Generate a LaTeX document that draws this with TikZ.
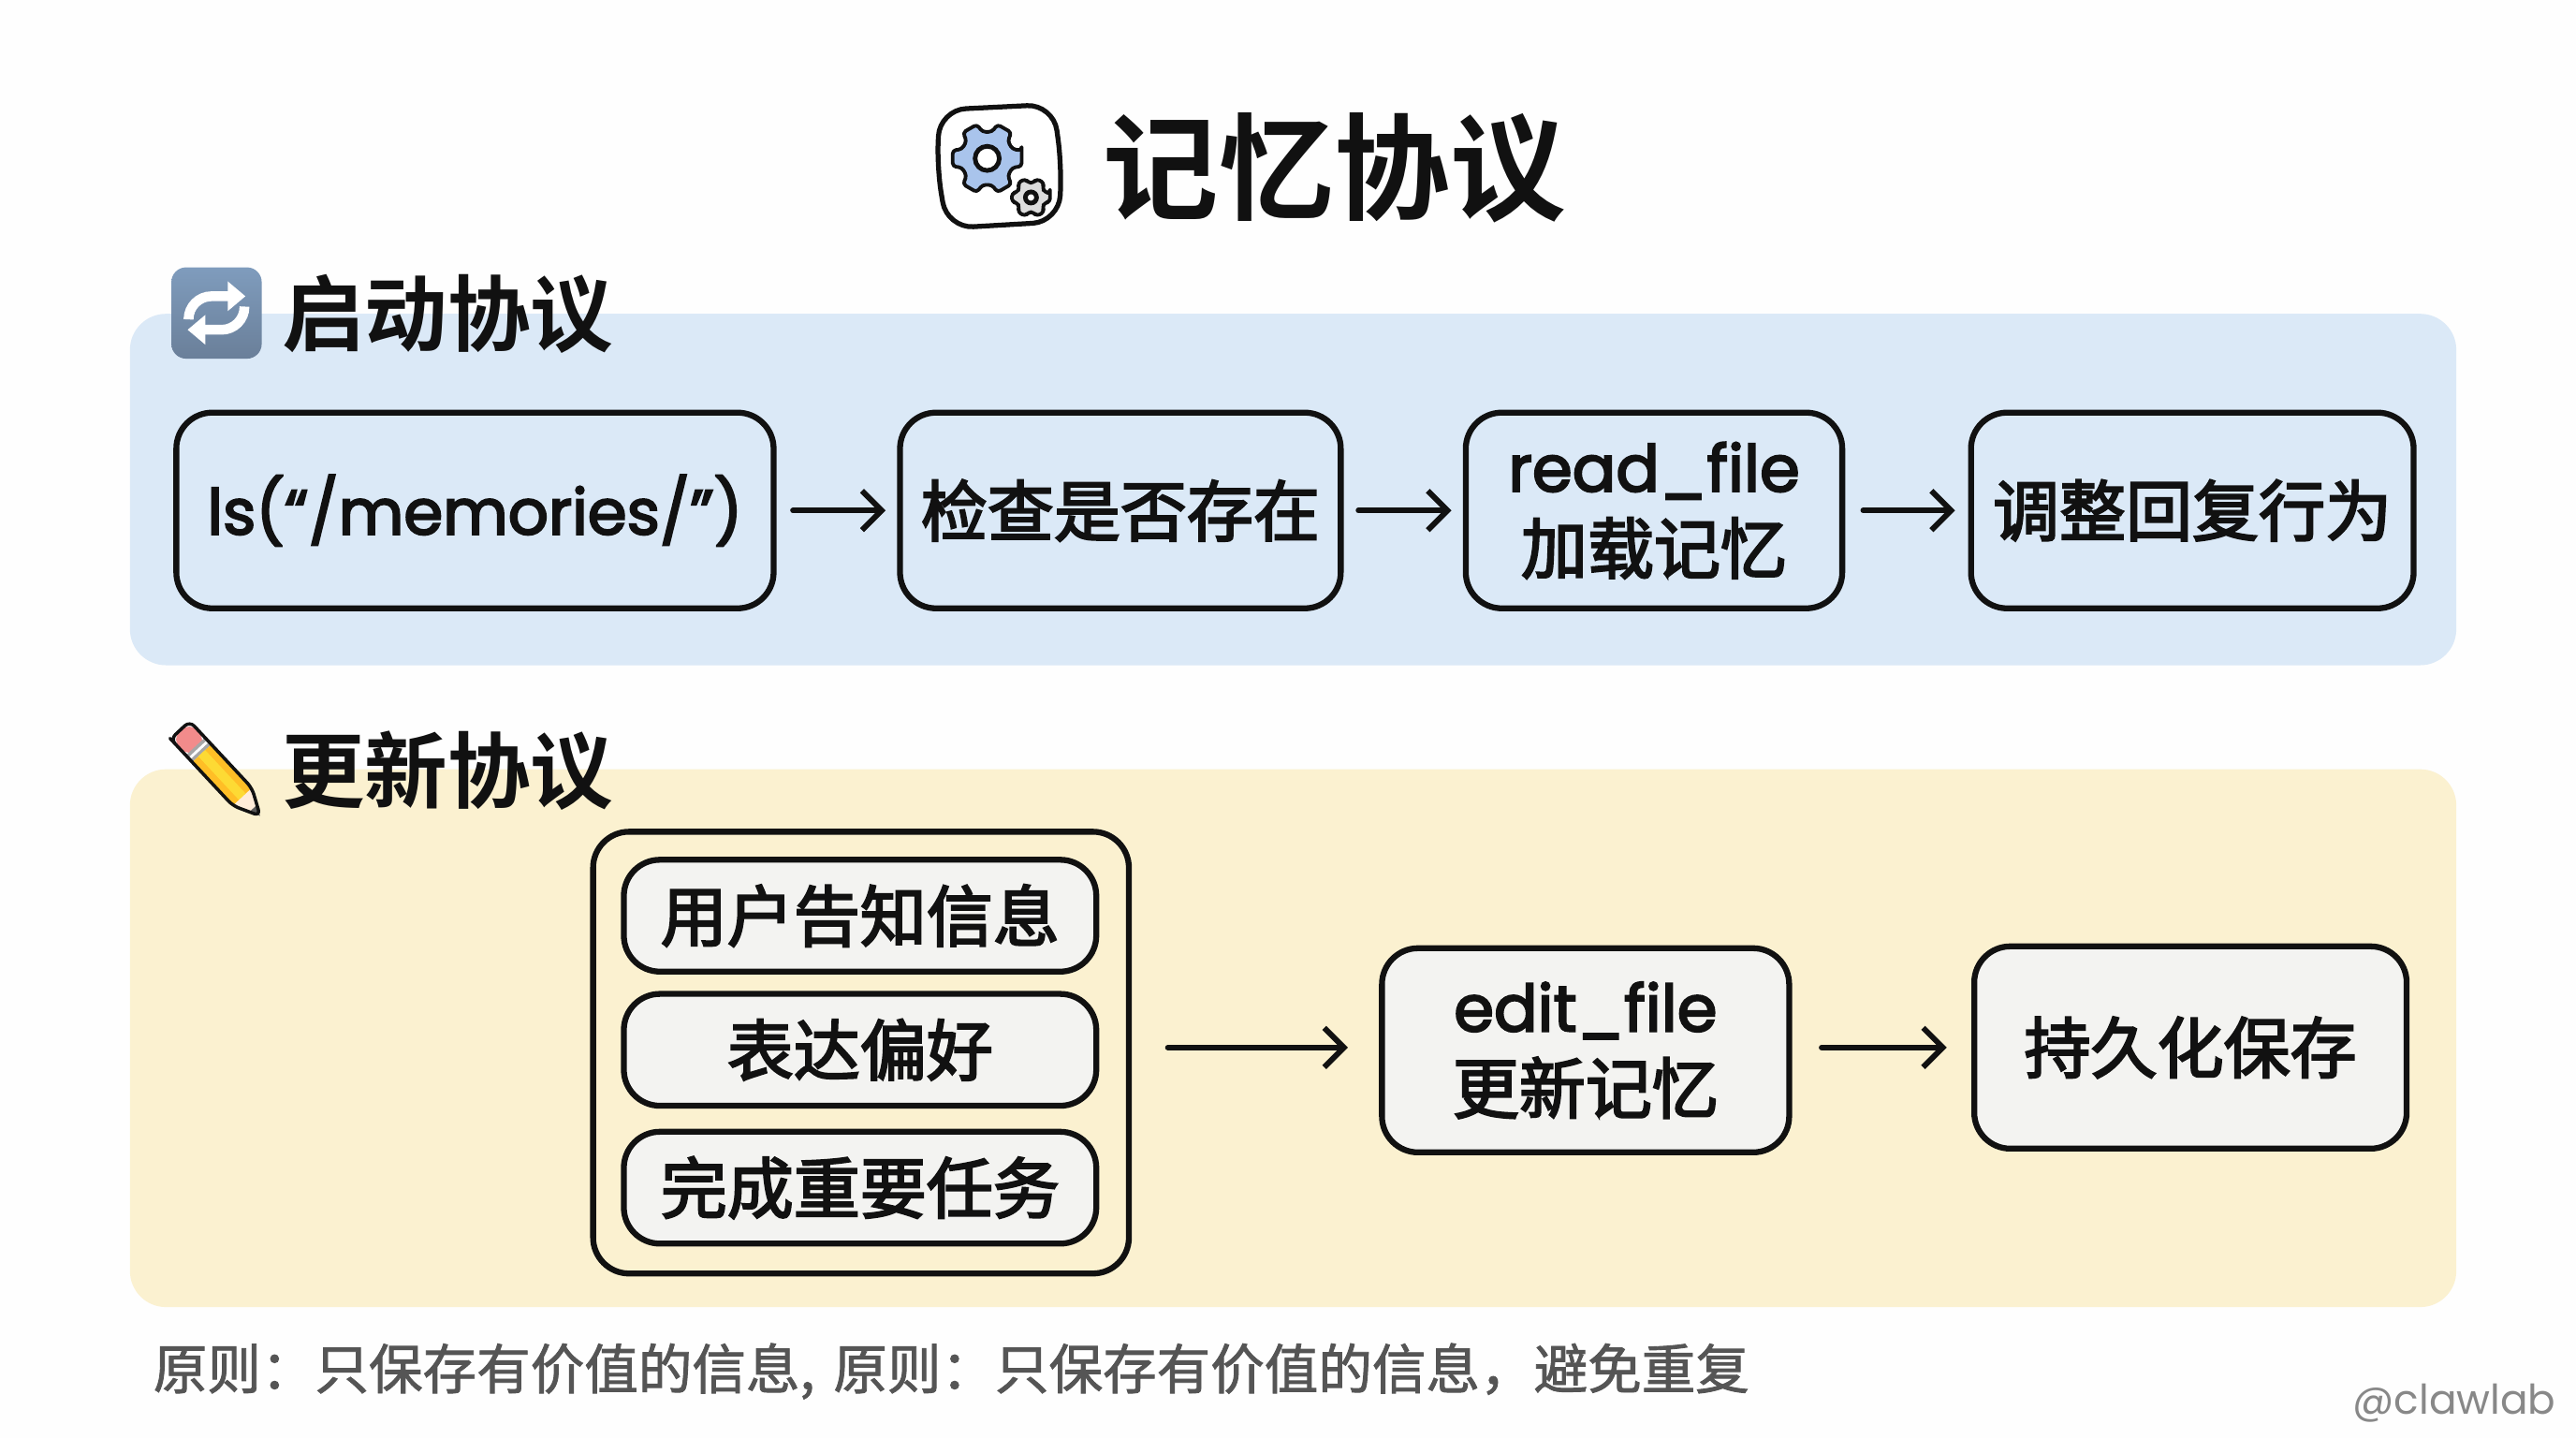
\documentclass[tikz,border=0pt]{standalone}
\usepackage{fontspec}
\setmainfont{Poppins}
\newfontfamily\latinmed[FakeBold=3]{Poppins}
\newfontfamily\cjkbold[BoldFont={Noto Sans CJK SC Bold}]{Noto Sans CJK SC}
\newfontfamily\cjkmed[FakeBold=3]{Noto Sans CJK SC}
\newfontfamily\cjkfoot[FakeBold=1.5]{Noto Sans CJK SC}
\usetikzlibrary{arrows.meta}

\definecolor{panelblue}{HTML}{DBE9F7}
\definecolor{panelyellow}{HTML}{FBF1D0}
\definecolor{boxgrey}{HTML}{F3F3F1}
\definecolor{inkblack}{HTML}{111111}
\definecolor{footgrey}{HTML}{555555}
\definecolor{markgrey}{HTML}{888888}
\definecolor{gearblue}{HTML}{A9C4EC}
\definecolor{geargrey}{HTML}{DDDDDD}
\definecolor{icontop}{HTML}{7F9CBD}
\definecolor{iconbottom}{HTML}{6A7F99}

\tikzset{
	panel/.style={rounded corners=11pt, inner sep=0pt},
	flowbox/.style={draw=inkblack, line width=1.8pt, rounded corners=11pt, inner sep=0pt, align=center, text=inkblack,
		font=\fontsize{20.3}{25}\selectfont\cjkmed},
	greybox/.style={flowbox, fill=boxgrey},
	flow/.style={draw=inkblack, line width=1.7pt, line cap=round, -{Straight Barb[length=6pt,width=12pt,line width=1.7pt]}},
	heading/.style={anchor=west, inner sep=0pt, text=inkblack, font=\fontsize{25.3}{30}\selectfont\cjkbold\bfseries},
}

\newcommand{\gearicon}[5]{% x, y, outer radius, hole radius, fill
	\begin{scope}[shift={(#1,#2)}]
		\draw[draw=inkblack, line width=1.1pt, fill=#5, rounded corners=1pt, line join=round]
			(-13:#3) \foreach \a in {0,60,...,300} {
				-- (\a-13:#3) -- (\a+13:#3) -- (\a+20:0.76*#3) -- (\a+40:0.76*#3) }
			-- cycle;
		\draw[draw=inkblack, line width=1.4pt, fill=white] (0,0) circle (#4);
	\end{scope}
}

\begin{document}
\begin{tikzpicture}[x=0.01cm, y=-0.01cm]
	\useasboundingbox (0,0) rectangle (2766,1544);
	\fill[white!99.5!black] (0,0) rectangle (2766,1544);

	% Draw the two panels
	\node[panel, fill=panelblue, minimum width=25cm-1pt, minimum height=3.77cm] (startpanel) at (1388.5,525.5) {};
	\node[panel, fill=panelyellow, minimum width=25cm-1pt, minimum height=5.77cm] (updatepanel) at (1388.5,1114.5) {};

	% Gears in the title
	\draw[draw=inkblack, line width=1.5pt, fill=white, rounded corners=8pt] (1009,118) -- (1131,112) -- (1140,178) -- (1137,238) -- (1017,245) -- (1006,180) -- cycle;
	\gearicon{1060}{170}{38}{13}{gearblue}
	\gearicon{1107}{212}{21}{6}{geargrey}
	\node[anchor=west, inner sep=0pt, text=inkblack, font=\fontsize{35.3}{40}\selectfont\cjkbold\bfseries] (title) at (1184,180) {记忆协议};

	% Refresh icon
	\shade[top color=icontop, bottom color=iconbottom, rounded corners=4.5pt] (184,287) rectangle (281,385);
	\foreach \r in {0,180} {
		\begin{scope}[shift={(232.5,336)}, rotate=\r]
			\draw[white, line width=3pt, rounded corners=7pt] (-30,5) -- (-30,-18) -- (13,-18);
			\fill[white] (31,-18) -- (12,-34) -- (12,-2) -- cycle;
		\end{scope}
	}
	\node[heading] (starthead) at (302,337) {启动协议};

	% Pencil icon
	\begin{scope}[shift={(203,794)}, rotate=-47]
		\fill[red!45!white!90!gray, rounded corners=4pt] (-14,-14) rectangle (14,14);
		\fill[black!35] (10,-14) rectangle (20,14);
		\draw[white, line width=0.8pt] (15,-14) -- (15,14);
		\fill[orange!60!yellow!85!white] (20,-14) rectangle (84,14);
		\fill[yellow!70!orange!80!white] (20,-5) rectangle (84,5);
		\fill[orange!15!white] (84,-14) -- (103,-3) -- (103,3) -- (84,14) -- cycle;
		\fill[black!65] (101,-4) -- (112,0) -- (101,4) -- cycle;
		\draw[inkblack, line width=1pt, rounded corners=2pt, line join=round] (84,14) -- (-8,14) -- (-14,14) -- (-14,-14) -- (84,-14) -- (112,0) -- cycle;
	\end{scope}
	\node[heading] (updatehead) at (302,827) {更新协议};

	% First row
	\node[flowbox, minimum width=6.41cm, minimum height=2.1cm] (lsbox) at (510,548) {\latinmed\fontsize{19.3}{25}\selectfont ls(“/memories/”)};
	\node[flowbox, minimum width=4.73cm, minimum height=2.1cm] (checkbox) at (1203,548) {检查是否存在};
	\node[flowbox, minimum width=4.04cm, minimum height=2.1cm] (readbox) at (1776,548) {{\latinmed\fontsize{19.7}{25}\selectfont read\_file}\\加载记忆};
	\node[flowbox, minimum width=4.75cm, minimum height=2.1cm] (adjustbox) at (2354,548) {调整回复行为};

	\draw[flow, shorten <=5pt, shorten >=3.5pt] (lsbox) -- (checkbox);
	\draw[flow, shorten <=4.5pt, shorten >=3.5pt] (checkbox) -- (readbox);
	\draw[flow, shorten <=5.5pt, shorten >=4pt] (readbox) -- (adjustbox);

	% Second row
	\node[flowbox, minimum width=5.75cm, minimum height=4.74cm] (groupbox) at (924.5,1130) {};
	\node[greybox, minimum width=5.07cm, minimum height=1.2cm] (toldbox) at (923.5,983) {用户告知信息};
	\node[greybox, minimum width=5.07cm, minimum height=1.2cm] (prefbox) at (923.5,1127) {表达偏好};
	\node[greybox, minimum width=5.07cm, minimum height=1.2cm] (taskbox) at (923.5,1275) {完成重要任务};
	\node[greybox, minimum width=4.37cm, minimum height=2.19cm] (editbox) at (1702.5,1127.5) {{\latinmed\fontsize{19.7}{25}\selectfont edit\_file}\\更新记忆};
	\node[greybox, minimum width=4.64cm, minimum height=2.17cm] (keepbox) at (2352,1124.5) {持久化保存};

	\draw[flow, shorten <=11pt, shorten >=9.5pt] (groupbox.east |- keepbox.west) -- (editbox.west |- keepbox.west);
	\draw[flow, shorten <=9pt, shorten >=7.5pt] (editbox.east |- keepbox.west) -- (keepbox.west);

	% Footer and mark
	\node[anchor=west, inner sep=0pt, text=footgrey, font=\fontsize{16.45}{20}\selectfont\cjkfoot] (rule) at (164,1472) {原则：只保存有价值的信息,\hspace{2pt} 原则：只保存有价值的信息，避免重复};
	\node[anchor=east, inner sep=0pt, text=markgrey, font=\fontsize{12.5}{16}\selectfont] (mark) at (2745,1506) {@clawlab};
\end{tikzpicture}
\end{document}
